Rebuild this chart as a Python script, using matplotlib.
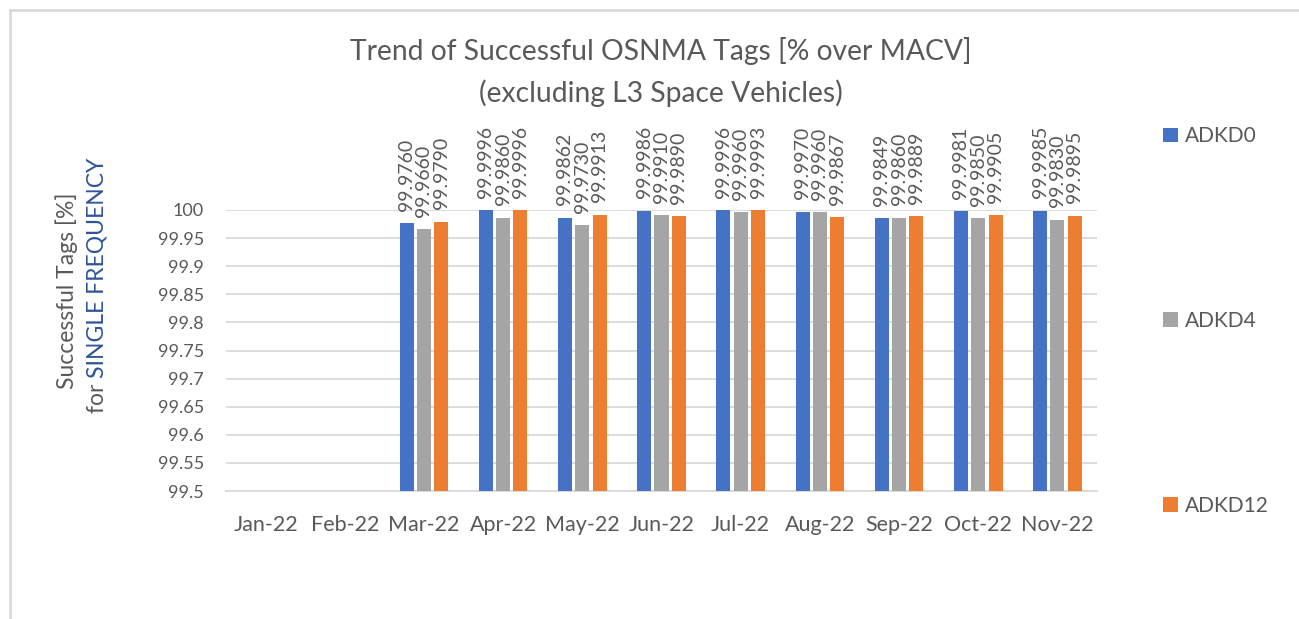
import numpy as np
import matplotlib.pyplot as plt
from matplotlib.patches import Rectangle

plt.rcParams['font.family'] = ['Lato', 'DejaVu Sans']

months = ['Jan-22', 'Feb-22', 'Mar-22', 'Apr-22', 'May-22', 'Jun-22',
          'Jul-22', 'Aug-22', 'Sep-22', 'Oct-22', 'Nov-22']
# Jan and Feb have no data
adkd0 = [np.nan, np.nan, 99.9760, 99.9996, 99.9862, 99.9986,
         99.9996, 99.9970, 99.9849, 99.9981, 99.9985]
adkd4 = [np.nan, np.nan, 99.9660, 99.9860, 99.9730, 99.9910,
         99.9960, 99.9960, 99.9860, 99.9850, 99.9830]
adkd12 = [np.nan, np.nan, 99.9790, 99.9996, 99.9913, 99.9890,
          99.9993, 99.9867, 99.9889, 99.9905, 99.9895]
series_names = ['ADKD0', 'ADKD4', 'ADKD12']
colors = ['#4472C4', '#A5A5A5', '#ED7D31']
yticks = [99.5, 99.55, 99.6, 99.65, 99.7, 99.75, 99.8, 99.85, 99.9, 99.95, 100]

text_col = '#595959'

fig = plt.figure(figsize=(12.99, 6.19), dpi=100)
ax = fig.add_axes([226 / 1299, 1 - 491 / 619, (1097 - 226) / 1299, (491 - 210) / 619])

x = np.arange(len(months))
width = 0.177
offsets = [-0.219, 0.0, 0.219]
bars = []
for vals, name, col, off in zip([adkd0, adkd4, adkd12], series_names, colors, offsets):
    b = ax.bar(x + off, vals, width, color=col, label=name, zorder=3)
    bars.append(b)
    for xi, v in zip(x + off, vals):
        if np.isnan(v):
            continue
        ax.annotate(f'{v:.4f}', xy=(xi, v), xytext=(0, 9), textcoords='offset points',
                    rotation=90, ha='center', va='bottom', fontsize=14,
                    color=text_col, annotation_clip=False)

ax.set_ylim(99.5, 100)
ax.set_xlim(-0.5, len(months) - 0.5)
ax.set_yticks(yticks)
ax.set_yticklabels([f'{t:g}' for t in yticks])
ax.set_xticks(x)
ax.set_xticklabels(months)
ax.tick_params(axis='both', length=0, colors=text_col, labelsize=13)
ax.tick_params(axis='x', pad=17, labelsize=15.5)
ax.tick_params(axis='y', pad=16)
ax.grid(axis='y', color='#D9D9D9', linewidth=1.3, zorder=0)
for s in ['top', 'right', 'left']:
    ax.spines[s].set_visible(False)
ax.spines['bottom'].set_color('#D9D9D9')
ax.spines['bottom'].set_linewidth(1.3)

fig.text(661 / 1299, 1 - 51 / 619, 'Trend of Successful OSNMA Tags [% over MACV]',
         ha='center', va='center', fontsize=20.3, color=text_col)
fig.text(661 / 1299, 1 - 93 / 619, '(excluding L3 Space Vehicles)',
         ha='center', va='center', fontsize=20.3, color=text_col)

# y label, two lines, second line partly blue
fig.text(67 / 1299, 1 - 291 / 619, 'Successful Tags [%]', rotation=90,
         ha='center', va='center', fontsize=16.5, color=text_col)
t_for = fig.text(97 / 1299, 1 - 413 / 619, 'for ', rotation=90,
                 ha='center', va='bottom', fontsize=16.5, color=text_col)
ax.annotate('SINGLE FREQUENCY', xy=(0.5, 1.0), xycoords=t_for, rotation=90,
            ha='center', va='bottom', fontsize=16.5, color='#2F5597',
            annotation_clip=False)

fig.legend(handles=bars, labels=series_names, loc='center left',
           bbox_to_anchor=(1163 / 1299, 1 - 321 / 619), frameon=False,
           fontsize=15, labelcolor=text_col, handlelength=0.7, handleheight=0.7,
           handletextpad=0.35, labelspacing=7.9, borderpad=0, borderaxespad=0)

# chart border (only top and left edges visible in the crop)
fig.patches.append(Rectangle((10 / 1299, -0.1), 1.2, 1 - 10 / 619 + 0.1,
                             transform=fig.transFigure, fill=False,
                             edgecolor='#D9D9D9', linewidth=2))

fig.savefig('out.png', dpi=100)
